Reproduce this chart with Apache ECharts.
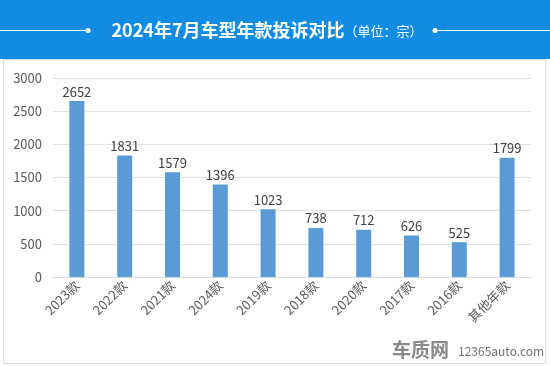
<!DOCTYPE html>
<html><head><meta charset="utf-8">
<script src="https://cdn.jsdelivr.net/npm/echarts@6/dist/echarts.min.js"></script>
<style>html,body{margin:0;padding:0;background:#fff}#c{width:550px;height:366px}</style>
</head><body><div id="c"></div>
<script>
var categories = ['2023款','2022款','2021款','2024款','2019款','2018款','2020款','2017款','2016款','其他年款'];
var values = [2652,1831,1579,1396,1023,738,712,626,525,1799];
var yTicks = [0,500,1000,1500,2000,2500,3000];
var FONT = '"Noto Sans CJK SC", "Noto Sans", sans-serif';
var chart = echarts.init(document.getElementById('c'));
chart.setOption({
  animation:false,
  backgroundColor:'#fff',
  title:{
    text:'{b|2024年7月车型年款投诉对比}{s|（单位：宗）}',
    left:262, top:16, textAlign:'center',
    textStyle:{fontWeight:'normal',rich:{
      b:{fontSize:18,fontWeight:'bold',color:'#fff',fontFamily:FONT},
      s:{fontSize:13,fontWeight:'normal',color:'#fff',fontFamily:FONT,padding:[3,0,0,0]}
    }}
  },
  graphic:[
    {type:'rect',z:-1,shape:{x:0,y:0,width:550,height:59},style:{fill:'#128ce2'}},
    {type:'rect',z:-1,shape:{x:3.5,y:59.5,width:542,height:304},style:{fill:'#fff',stroke:'#dcdcdc',lineWidth:1}},
    {type:'line',shape:{x1:0,y1:30.5,x2:88,y2:30.5},style:{stroke:'#fff',lineWidth:1}},
    {type:'circle',shape:{cx:88,cy:30.5,r:2.5},style:{fill:'#fff'}},
    {type:'line',shape:{x1:435,y1:30.5,x2:550,y2:30.5},style:{stroke:'#fff',lineWidth:1}},
    {type:'circle',shape:{cx:435,cy:30.5,r:2.5},style:{fill:'#fff'}},
    {type:'text',left:392,top:340,style:{text:'车质网',fontSize:19,fontWeight:'bold',fill:'#8a8a8a',fontFamily:FONT}},
    {type:'text',left:458,top:345,style:{text:'12365auto.com',fontSize:12,fill:'#6f6f6f',fontFamily:FONT}}
  ],
  grid:{left:53,right:19,top:78,bottom:89,containLabel:false},
  xAxis:{
    type:'category',data:categories,
    axisLine:{lineStyle:{color:'#d9d9d9'}},
    axisTick:{show:false},
    axisLabel:{rotate:45,fontSize:13,color:'#595959',fontFamily:FONT,margin:6,interval:0}
  },
  yAxis:{
    type:'value',min:yTicks[0],max:yTicks[yTicks.length-1],interval:500,
    axisLine:{show:false},axisTick:{show:false},
    splitLine:{lineStyle:{color:'#e0e0e0'}},
    axisLabel:{fontSize:13,color:'#595959',fontFamily:FONT,margin:11,formatter:function(v){return String(v);}}
  },
  series:[{
    type:'bar',data:values,barWidth:15,
    itemStyle:{color:'#5b9bd5'},
    label:{show:true,position:'top',fontSize:13,color:'#404040',fontFamily:FONT,distance:3}
  }]
});
</script></body></html>
